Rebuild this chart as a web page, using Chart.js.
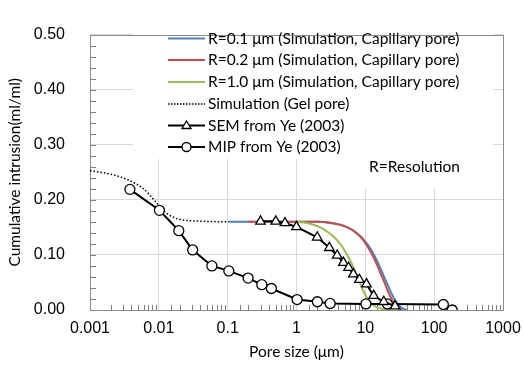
<!DOCTYPE html>
<html>
<head>
  <title>Cumulative intrusion</title>
  <script src="https://cdn.jsdelivr.net/npm/chart.js"></script>
  <style>
    body { margin: 0; background: #fff; }
    #wrap { width: 523px; height: 373px; }
  </style>
</head>
<body>
  <div id="wrap"><canvas id="myChart" width="523" height="373"></canvas></div>
  <script>
    // values (pore size in um, intrusion in ml/ml)
    const xTickLabels = ['0.001', '0.01', '0.1', '1', '10', '100', '1000'];
    const yTickLabels = ['0.00', '0.10', '0.20', '0.30', '0.40', '0.50'];

    const r01X = [0.1, 0.3, 1.0, 2.0, 3.0, 4.3, 6.7, 10.5, 14.7, 19.4, 25.6, 32, 40];
    const r01Y = [0.16, 0.16, 0.16, 0.16, 0.159, 0.155, 0.144, 0.121, 0.090, 0.056, 0.023, 0.006, 0];

    const r02X = [0.2, 0.5, 1.0, 2.0, 3.06, 5.35, 8.5, 12.4, 17.3, 23, 28.6, 34];
    const r02Y = [0.16, 0.16, 0.16, 0.16, 0.158, 0.151, 0.133, 0.102, 0.062, 0.025, 0.006, 0];

    const r10X = [1.0, 1.41, 2.46, 4.06, 6.03, 7.94, 9.9, 12.4, 16.4, 23];
    const r10Y = [0.16, 0.158, 0.147, 0.124, 0.090, 0.056, 0.028, 0.011, 0.003, 0];

    const gelX = [0.001, 0.00207, 0.0036, 0.006, 0.0088, 0.0123, 0.0172, 0.024, 0.047, 0.097];
    const gelY = [0.253, 0.246, 0.236, 0.220, 0.198, 0.178, 0.167, 0.163, 0.161, 0.160];

    const semX = [0.30, 0.50, 0.68, 1.0, 2.0, 3.0, 3.9, 4.8, 5.7, 6.7, 8.2, 10.4, 13.2, 18.5, 27];
    const semY = [0.161, 0.161, 0.158, 0.151, 0.132, 0.113, 0.099, 0.086, 0.077, 0.065, 0.055, 0.047, 0.026, 0.015, 0.007];

    const mipX = [0.0038, 0.0102, 0.0195, 0.031, 0.059, 0.104, 0.198, 0.313, 0.432, 1.02, 2.01, 3.08, 10.2, 20.9, 136, 183];
    const mipY = [0.219, 0.181, 0.144, 0.109, 0.080, 0.071, 0.058, 0.046, 0.039, 0.019, 0.015, 0.012, 0.011, 0.011, 0.010, 0.0];

    const pts = (xs, ys) => xs.map((x, i) => ({ x: x, y: ys[i] }));
    const isDecade = v => Math.abs(Math.log10(v) - Math.round(Math.log10(v))) < 1e-6;
    const isTenth = v => Math.abs(v * 10 - Math.round(v * 10)) < 1e-6;

    const legendItems = [
      { text: 'R=0.1 \u03bcm (Simulation, Capillary pore)', color: '#4f81bd', dash: [], marker: null },
      { text: 'R=0.2 \u03bcm (Simulation, Capillary pore)', color: '#c0504d', dash: [], marker: null },
      { text: 'R=1.0 \u03bcm (Simulation, Capillary pore)', color: '#9bbb59', dash: [], marker: null },
      { text: 'Simulation (Gel pore)', color: '#000', dash: [1.5, 1.5], marker: null },
      { text: 'SEM from Ye (2003)', color: '#000', dash: [], marker: 'triangle' },
      { text: 'MIP from Ye (2003)', color: '#000', dash: [], marker: 'circle' }
    ];

    // frame, inward tick marks and the legend box
    const decor = {
      id: 'decor',
      beforeDatasetsDraw(chart) {
        const { ctx, chartArea: a, scales } = chart;
        ctx.save();
        // legend and note boxes hide the grid behind them
        ctx.fillStyle = '#fff';
        ctx.fillRect(133, 26, 360, 133);
        ctx.fillRect(362, 150, 131, 38);
        ctx.strokeStyle = '#7f7f7f';
        ctx.lineWidth = 1;
        // y minor ticks
        scales.y.ticks.forEach(t => {
          const py = Math.round(scales.y.getPixelForValue(t.value)) + 0.5;
          ctx.beginPath(); ctx.moveTo(a.left, py); ctx.lineTo(a.left + 6, py); ctx.stroke();
        });
        // x minor ticks
        scales.x.ticks.forEach(t => {
          if (isDecade(t.value)) return;
          const px = Math.round(scales.x.getPixelForValue(t.value)) + 0.5;
          ctx.beginPath(); ctx.moveTo(px, a.bottom); ctx.lineTo(px, a.bottom - 5); ctx.stroke();
        });
        ctx.strokeStyle = '#8c8c8c';
        ctx.strokeRect(Math.round(a.left) + 0.5, Math.round(a.top) + 0.5, Math.round(a.right - a.left), Math.round(a.bottom - a.top));
        ctx.restore();
      },
      afterDraw(chart) {
        const ctx = chart.ctx;
        ctx.save();
        const x0 = 168, x1 = 205, tx = 208;
        const rows = [38.5, 60, 82, 104, 125.5, 147];
        ctx.font = '15.5px Lato';
        ctx.textBaseline = 'middle';
        legendItems.forEach((it, i) => {
          const y = rows[i];
          ctx.strokeStyle = it.color;
          ctx.lineWidth = it.dash.length ? 1.5 : 2;
          ctx.setLineDash(it.dash);
          ctx.beginPath(); ctx.moveTo(x0, y); ctx.lineTo(x1, y); ctx.stroke();
          ctx.setLineDash([]);
          const cx = (x0 + x1) / 2;
          ctx.lineWidth = 1.3;
          ctx.fillStyle = '#fff';
          ctx.strokeStyle = '#000';
          if (it.marker === 'circle') {
            ctx.beginPath(); ctx.arc(cx, y, 4.5, 0, Math.PI * 2); ctx.fill(); ctx.stroke();
          } else if (it.marker === 'triangle') {
            ctx.beginPath(); ctx.moveTo(cx, y - 4.5); ctx.lineTo(cx + 4.5, y + 3); ctx.lineTo(cx - 4.5, y + 3); ctx.closePath(); ctx.fill(); ctx.stroke();
          }
          ctx.fillStyle = '#000';
          ctx.fillText(it.text, tx, y);
        });
        ctx.textAlign = 'right';
        ctx.fillText('R=Resolution', 460, 167);
        ctx.restore();
      }
    };

    const lineSet = (label, data, color, order) => ({
      label: label, data: data, showLine: true, borderColor: color, borderWidth: 2,
      pointRadius: 0, cubicInterpolationMode: 'monotone', order: order
    });

    const ctx = document.getElementById('myChart').getContext('2d');
    const myChart = new Chart(ctx, {
      type: 'scatter',
      data: {
        datasets: [
          lineSet('R=0.1 \u03bcm', pts(r01X, r01Y), '#4f81bd', 6),
          lineSet('R=0.2 \u03bcm', pts(r02X, r02Y), '#c0504d', 5),
          lineSet('R=1.0 \u03bcm', pts(r10X, r10Y), '#9bbb59', 4),
          Object.assign(lineSet('Gel pore', pts(gelX, gelY), '#000', 3), { borderWidth: 1.5, borderDash: [1.5, 2] }),
          {
            label: 'SEM', data: pts(semX, semY), showLine: true, borderColor: '#000', borderWidth: 2,
            pointStyle: 'triangle', pointRadius: 5.5, pointBackgroundColor: '#fff', pointBorderColor: '#000',
            pointBorderWidth: 1.3, order: 1
          },
          {
            label: 'MIP', data: pts(mipX, mipY), showLine: true, borderColor: '#000', borderWidth: 2,
            pointStyle: 'circle', pointRadius: 5, pointBackgroundColor: '#fff', pointBorderColor: '#000',
            pointBorderWidth: 1.3, order: 2
          }
        ]
      },
      options: {
        responsive: false,
        animation: false,
        layout: { padding: { left: 0, right: 20, top: 15, bottom: 0 } },
        plugins: { legend: { display: false }, tooltip: { enabled: false } },
        scales: {
          x: {
            type: 'logarithmic',
            min: 0.001, max: 1000,
            afterFit: s => { s.height = 63; s.paddingRight = 20; s.paddingLeft = 0; },
            border: { display: false },
            grid: { color: c => isDecade(c.tick.value) ? '#d9d9d9' : 'rgba(0,0,0,0)', drawTicks: false },
            ticks: {
              autoSkip: false, maxRotation: 0, padding: 9, color: '#000',
              font: { family: 'Liberation Sans', size: 16 },
              callback: v => isDecade(v) ? xTickLabels[Math.round(Math.log10(v)) + 3] : ''
            },
            title: { display: true, text: 'Pore size (\u03bcm)', color: '#000', font: { family: 'Lato', size: 15.5 }, padding: { top: 2, bottom: 12 } }
          },
          y: {
            min: 0, max: 0.5,
            afterFit: s => { s.width = 90; },
            border: { display: false },
            grid: { color: c => isTenth(c.tick.value) ? '#d9d9d9' : 'rgba(0,0,0,0)', drawTicks: false },
            ticks: {
              stepSize: 0.02, autoSkip: false, padding: 25, color: '#000',
              font: { family: 'Liberation Sans', size: 16 },
              callback: v => isTenth(v) ? yTickLabels[Math.round(v * 10)] : ''
            },
            title: { display: true, text: 'Cumulative intrusion(ml/ml)', color: '#000', font: { family: 'Lato', size: 15.5 }, padding: { top: 6, bottom: 0 } }
          }
        }
      },
      plugins: [decor]
    });
  </script>
</body>
</html>
